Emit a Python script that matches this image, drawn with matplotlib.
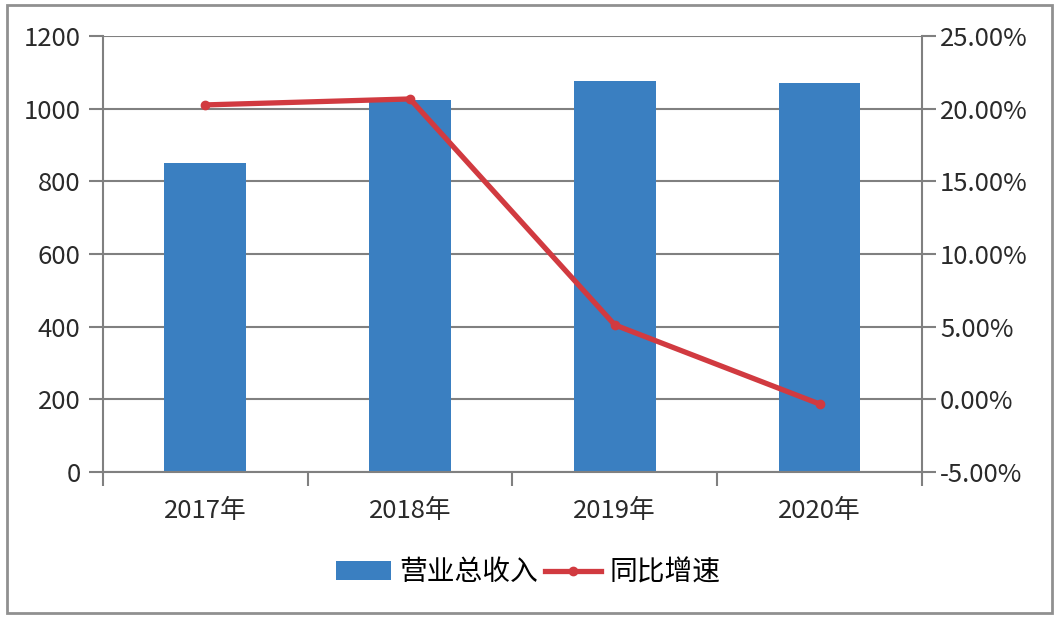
import matplotlib
matplotlib.use('Agg')
import matplotlib.pyplot as plt
import numpy as np
from matplotlib.patches import Rectangle
from matplotlib.ticker import FuncFormatter

plt.rcParams['font.family'] = ['Noto Sans CJK SC', 'DejaVu Sans']

# data
years = ['2017年', '2018年', '2019年', '2020年']
revenue = [850, 1024, 1076, 1071]
growth = [20.26, 20.67, 5.12, -0.32]   # percent

bar_color = '#3A7FC1'
line_color = '#D13A40'
grey = '#808080'
txt = '#2a2a2a'

fig = plt.figure(figsize=(10.56, 6.2), dpi=100)
ax = fig.add_axes([0.0975, 0.2387, 0.7755, 0.7032])

x = np.arange(len(years))
ax.bar(x, revenue, width=0.4, color=bar_color, zorder=2, label='营业总收入')
ax.set_xlim(-0.5, len(years) - 0.5)
ax.set_ylim(0, 1200)
ax.set_yticks(np.arange(0, 1201, 200))
ax.grid(axis='y', color=grey, linewidth=1.5, zorder=0)

# category ticks on the boundaries, labels in the middle
ax.set_xticks(np.arange(-0.5, len(years), 1.0))
ax.set_xticklabels([])
ax.set_xticks(x, minor=True)
ax.set_xticklabels(years, minor=True)
ax.tick_params(axis='x', which='major', length=10, width=1.5, color=grey, direction='out')
ax.tick_params(axis='x', which='minor', length=0, pad=19, labelsize=18.5, labelcolor=txt)
ax.tick_params(axis='y', length=10, width=1.5, color=grey, pad=6, labelsize=18.5, labelcolor=txt)

for s in ['left', 'bottom']:
    ax.spines[s].set_color(grey)
    ax.spines[s].set_linewidth(1.5)
ax.spines['top'].set_visible(False)
ax.spines['right'].set_visible(False)

ax2 = ax.twinx()
ax2.plot(x, growth, color=line_color, linewidth=3.8, marker='o', markersize=6,
         zorder=3, label='同比增速')
ax2.set_ylim(-5, 25)
ax2.set_yticks(np.arange(-5, 26, 5))
ax2.yaxis.set_major_formatter(FuncFormatter(lambda v, p: '%.2f%%' % v))
ax2.tick_params(axis='y', length=10, width=1.5, color=grey, pad=3, labelsize=18.5, labelcolor=txt)
ax2.spines['right'].set_color(grey)
ax2.spines['right'].set_linewidth(1.5)
for s in ['top', 'left', 'bottom']:
    ax2.spines[s].set_visible(False)

# legend below the plot
h1, l1 = ax.get_legend_handles_labels()
h2, l2 = ax2.get_legend_handles_labels()
fig.legend(h1 + h2, l1 + l2, loc='center', bbox_to_anchor=(0.5, 0.077), ncol=2,
           frameon=False, fontsize=20, handlelength=2.0, handleheight=0.7,
           columnspacing=0.25, handletextpad=0.3)

# outer frame
fig.patches.append(Rectangle((0.0066, 0.0113), 0.9896, 0.981, transform=fig.transFigure,
                             fill=False, edgecolor='#909090', linewidth=2))

fig.savefig('out.png', dpi=100)
